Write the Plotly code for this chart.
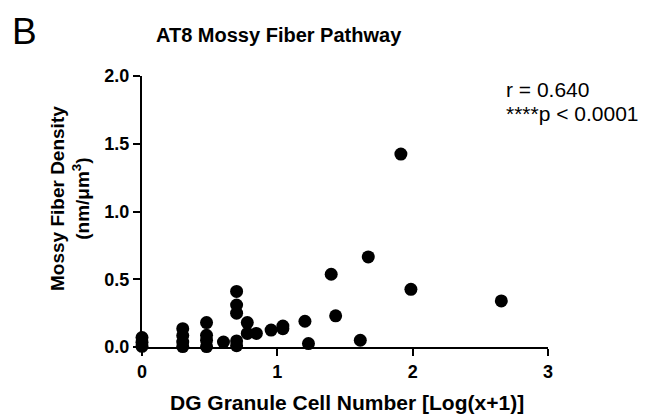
import plotly.graph_objects as go

# DG granule cell number [log(x+1)] and mossy fiber density (nm/um^3)
x_vals = [0.0, 0.0, 0.0,
          0.301, 0.301, 0.301, 0.301,
          0.477, 0.477, 0.477, 0.477,
          0.602,
          0.699, 0.699, 0.699, 0.699, 0.699,
          0.778, 0.778, 0.845, 0.954, 1.041, 1.041,
          1.204, 1.230, 1.398, 1.431, 1.613, 1.672,
          1.913, 1.987, 2.655]
y_vals = [0.07, 0.035, 0.005,
          0.135, 0.085, 0.037, 0.003,
          0.18, 0.086, 0.05, 0.003,
          0.037,
          0.41, 0.31, 0.25, 0.045, 0.01,
          0.18, 0.10, 0.10, 0.125, 0.155, 0.135,
          0.19, 0.025, 0.537, 0.23, 0.05, 0.665,
          1.424, 0.426, 0.34]

x_ticks = [0, 1, 2, 3]
y_ticks = [0.0, 0.5, 1.0, 1.5, 2.0]
y_tick_text = ["0.0", "0.5", "1.0", "1.5", "2.0"]

title = "AT8 Mossy Fiber Pathway"
x_title = "DG Granule Cell Number [Log(x+1)]"
y_title = "Mossy Fiber Density<br>(nm/μm<sup>3</sup>)"
stat_r = "r = 0.640"
stat_p = "****p < 0.0001"

# page offset (body margin) and plot-area geometry in screen pixels
OFF = 8
PL, PT, PW, PH = 142, 76, 406, 271


def px(x):
    return (x - PL) / PW


def py(y):
    return (PT + PH - y) / PH


fig = go.Figure()
fig.add_trace(go.Scatter(
    x=x_vals, y=y_vals, mode="markers",
    marker=dict(color="black", size=13, line=dict(width=0)),
    cliponaxis=False, showlegend=False,
))

FONT = "Liberation Sans, Arial"
tickfont = dict(family=FONT, size=18, color="black", weight="bold")

fig.update_layout(
    width=649 - OFF, height=418 - OFF,
    margin=dict(l=PL - OFF, r=649 - PL - PW, t=PT - OFF, b=418 - PT - PH),
    plot_bgcolor="white", paper_bgcolor="white",
    xaxis=dict(range=[0, 3], tickvals=x_ticks, showgrid=False, zeroline=False,
               showline=True, linecolor="black", linewidth=2,
               ticks="outside", ticklen=7, tickwidth=2, tickcolor="black",
               tickfont=tickfont),
    yaxis=dict(range=[0, 2], tickvals=y_ticks, ticktext=y_tick_text, showgrid=False, zeroline=False,
               showline=True, linecolor="black", linewidth=2,
               ticks="outside", ticklen=7, tickwidth=2, tickcolor="black",
               tickfont=tickfont),
    font=dict(family=FONT, color="black"),
)

fig.add_annotation(text="<b>" + title + "</b>", xref="paper", yref="paper",
                   x=px(279), y=py(35), showarrow=False, xanchor="center", yanchor="middle",
                   font=dict(family=FONT, size=20, color="black"))
fig.add_annotation(text="B", xref="paper", yref="paper",
                   x=px(11), y=py(31), showarrow=False, xanchor="left", yanchor="middle",
                   borderpad=0,
                   font=dict(family=FONT, size=37, color="black"))
fig.add_annotation(text="<b>" + x_title + "</b>", xref="paper", yref="paper",
                   x=px(347), y=py(402), showarrow=False, xanchor="center", yanchor="middle",
                   font=dict(family=FONT, size=21, color="black"))
fig.add_annotation(text="<b>" + y_title + "</b>", xref="paper", yref="paper",
                   x=px(70), y=py(199), showarrow=False, xanchor="center", yanchor="middle",
                   textangle=-90,
                   font=dict(family=FONT, size=19, color="black"))
fig.add_annotation(text=stat_r, xref="paper", yref="paper",
                   x=px(504), y=py(89), showarrow=False, xanchor="left", yanchor="middle",
                   font=dict(family=FONT, size=21, color="black"))
fig.add_annotation(text=stat_p, xref="paper", yref="paper",
                   x=px(504), y=py(113), showarrow=False, xanchor="left", yanchor="middle",
                   font=dict(family=FONT, size=21, color="black"))

fig.write_html("out.html")
